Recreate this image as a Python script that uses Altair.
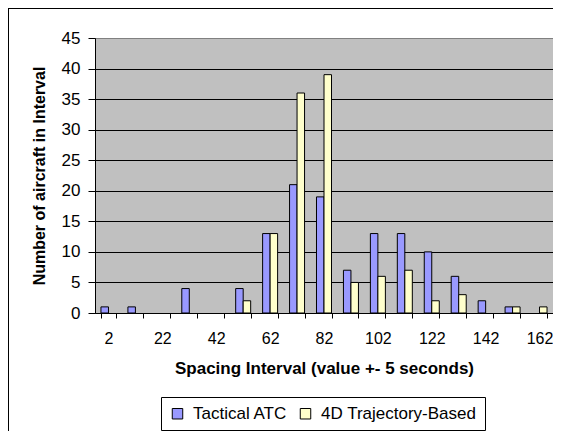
import altair as alt
import pandas as pd

intervals = [2, 12, 22, 32, 42, 52, 62, 72, 82, 92, 102, 112, 122, 132, 142, 152, 162]
tactical = [1, 1, 0, 4, 0, 4, 13, 21, 19, 7, 13, 13, 10, 6, 2, 1, 0]
trajectory = [0, 0, 0, 0, 0, 2, 13, 36, 39, 5, 6, 7, 2, 3, 0, 1, 1]
series = ["Tactical ATC", "4D Trajectory-Based"]
colors = ["#9999FF", "#FFFFCC"]
y_ticks = [0, 5, 10, 15, 20, 25, 30, 35, 40, 45]

rows = []
for i, v in enumerate(intervals):
    rows.append({"interval": v, "series": series[0], "count": tactical[i]})
    rows.append({"interval": v, "series": series[1], "count": trajectory[i]})
df = pd.DataFrame(rows)

W, H = 458, 275
FONT = "Liberation Sans"

bars = alt.Chart(df).mark_bar(stroke="black", strokeWidth=1).encode(
    x=alt.X(
        "interval:O",
        sort=intervals,
        scale=alt.Scale(domain=intervals, paddingInner=0.443, paddingOuter=0.2215),
        axis=alt.Axis(
            title="Spacing Interval (value +- 5 seconds)",
            labelAngle=0,
            tickBand="extent",
            labelExpr="(toNumber(datum.value) - 2) % 20 === 0 ? datum.label : ''",
            domainColor="black",
            tickColor="black",
            tickSize=5,
            labelPadding=12,
            labelFont=FONT,
            labelFontSize=16,
            labelColor="black",
            titleFont=FONT,
            titleFontSize=17,
            titleFontWeight="bold",
            titleColor="black",
            titlePadding=14,
            grid=False,
        ),
    ),
    xOffset=alt.XOffset("series:N", sort=series,
                        scale=alt.Scale(domain=series, paddingInner=0, paddingOuter=0)),
    y=alt.Y(
        "count:Q",
        scale=alt.Scale(domain=[0, 45], nice=False),
        axis=alt.Axis(
            title="Number of aircraft in Interval",
            values=y_ticks,
            grid=True,
            gridColor={"condition": {"test": "datum.value == 45", "value": "#808080"}, "value": "black"},
            gridOpacity=1,
            gridWidth=1,
            domainColor="black",
            tickColor="black",
            tickSize=7,
            labelPadding=8,
            labelFont=FONT,
            labelFontSize=17,
            labelColor="black",
            titleFont=FONT,
            titleFontSize=16,
            titleFontWeight="bold",
            titleColor="black",
            titlePadding=14,
        ),
    ),
    color=alt.Color(
        "series:N",
        sort=series,
        scale=alt.Scale(domain=series, range=colors),
        legend=alt.Legend(
            title=None,
            orient="none",
            legendX=66,
            legendY=359,
            direction="horizontal",
            symbolType="square",
            symbolSize=110,
            symbolStrokeColor="black",
            symbolStrokeWidth=1,
            symbolOpacity=1,
            labelFont=FONT,
            labelFontSize=17,
            labelColor="black",
            labelLimit=300,
            labelOffset=7,
            strokeColor="black",
            fillColor="white",
            padding=8,
            columnPadding=9,
        ),
    ),
).transform_filter("datum.count > 0")

one = alt.Data(values=[{}])
border_left = alt.Chart(one).mark_rule(color="black", strokeWidth=1).encode(
    x=alt.value(-86.5),
    y=alt.value(-29.5),
    y2=alt.value(H + 120),
)
border_top = alt.Chart(one).mark_rule(color="black", strokeWidth=1).encode(
    x=alt.value(-87),
    x2=alt.value(W + 2),
    y=alt.value(-29.5),
)

chart = alt.layer(bars, border_left, border_top).properties(
    width=W,
    height=H,
    padding={"left": 87, "top": 30, "right": 0, "bottom": 118},
    autosize=alt.AutoSizeParams(type="none"),
    background="white",
).configure_view(
    fill="#C0C0C0",
    stroke="#808080",
    strokeWidth=1,
)

chart.save("out.html", embed_options={"renderer": "svg", "actions": False})
